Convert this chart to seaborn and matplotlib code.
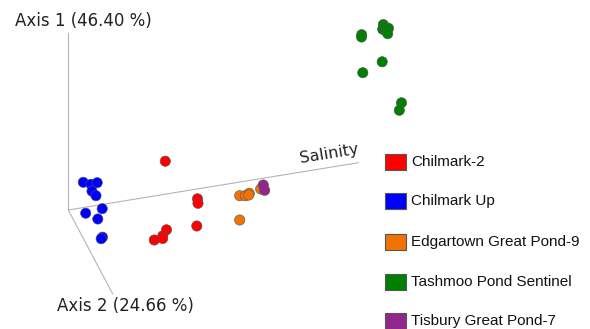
import pandas as pd
import matplotlib
matplotlib.use("Agg")
import matplotlib.pyplot as plt
import seaborn as sns
from matplotlib.patches import Rectangle

# projected PCoA scores (screen-like units)
chilmark2_x = [165.3, 197.5, 198.0, 196.8, 166.5, 162.8, 162.7, 154.3]
chilmark2_y = [161.2, 198.8, 203.3, 226.0, 229.8, 235.8, 238.5, 240.0]
chilmark_up_x = [83.3, 91.0, 97.2, 92.0, 96.0, 85.7, 102.2, 97.8, 102.5, 101.2]
chilmark_up_y = [182.3, 184.3, 182.7, 191.2, 195.7, 213.2, 208.7, 219.0, 237.2, 238.7]
edgartown_x = [239.7, 245.3, 249.3, 248.7, 260.7, 239.7]
edgartown_y = [195.7, 195.7, 193.3, 195.0, 189.0, 220.0]
tashmoo_x = [383.3, 382.7, 385.7, 388.5, 387.7, 361.7, 361.5, 382.2, 362.8, 401.5, 399.3]
tashmoo_y = [24.6, 29.3, 27.3, 28.3, 33.7, 34.7, 37.0, 61.8, 72.7, 102.8, 110.3]
tisbury_x = [263.3, 264.7]
tisbury_y = [185.0, 190.3]

groups = ["Chilmark-2", "Chilmark Up", "Edgartown Great Pond-9",
          "Tashmoo Pond Sentinel", "Tisbury Great Pond-7"]
colors = ["#ff0000", "#0000ff", "#f27304", "#008000", "#91278d"]

axis1_label = "Axis 1 (46.40 %)"
axis2_label = "Axis 2 (24.66 %)"
axis3_label = "Salinity"

xs = [chilmark2_x, chilmark_up_x, edgartown_x, tashmoo_x, tisbury_x]
ys = [chilmark2_y, chilmark_up_y, edgartown_y, tashmoo_y, tisbury_y]
df = pd.concat([pd.DataFrame({"x": x, "y": y, "group": g})
                for x, y, g in zip(xs, ys, groups)], ignore_index=True)

sns.set_style("white")
fig = plt.figure(figsize=(5.9, 3.29), dpi=100)
ax = fig.add_axes([0, 0, 1, 1])
ax.set_xlim(0, 590)
ax.set_ylim(329, 0)
ax.axis("off")

# projected 3d axes
origin = (68.3, 210.0)
ax.plot([origin[0], 68.3], [origin[1], 33.0], color="#b4b4b4", lw=0.8)
ax.plot([origin[0], 358.3], [origin[1], 162.7], color="#b4b4b4", lw=0.8)
ax.plot([origin[0], 112.7], [origin[1], 294.0], color="#b4b4b4", lw=0.8)

sns.scatterplot(data=df, x="x", y="y", hue="group", palette=dict(zip(groups, colors)),
                s=55, edgecolor="#555555", linewidth=0.4, legend=False, ax=ax, zorder=3)

ax.text(15, 21, axis1_label, fontsize=12, family="DejaVu Sans",
        color="#222222", va="center", ha="left")
ax.text(57, 306, axis2_label, fontsize=12, family="DejaVu Sans",
        color="#222222", va="center", ha="left")
ax.text(329, 154, axis3_label, fontsize=11.5, family="DejaVu Sans",
        color="#222222", va="center", ha="center", rotation=9.2, rotation_mode="anchor")

# legend
leg_y = [162, 201, 242, 282, 321]
for g, c, yy in zip(groups, colors, leg_y):
    ax.add_patch(Rectangle((385, yy - 8), 21, 16, facecolor=c,
                           edgecolor="#555555", lw=0.8, zorder=4))
    ax.text(411, yy, g, fontsize=11, family="Liberation Sans",
            color="#111111", va="center", ha="left")

fig.savefig("out.png", dpi=100)
